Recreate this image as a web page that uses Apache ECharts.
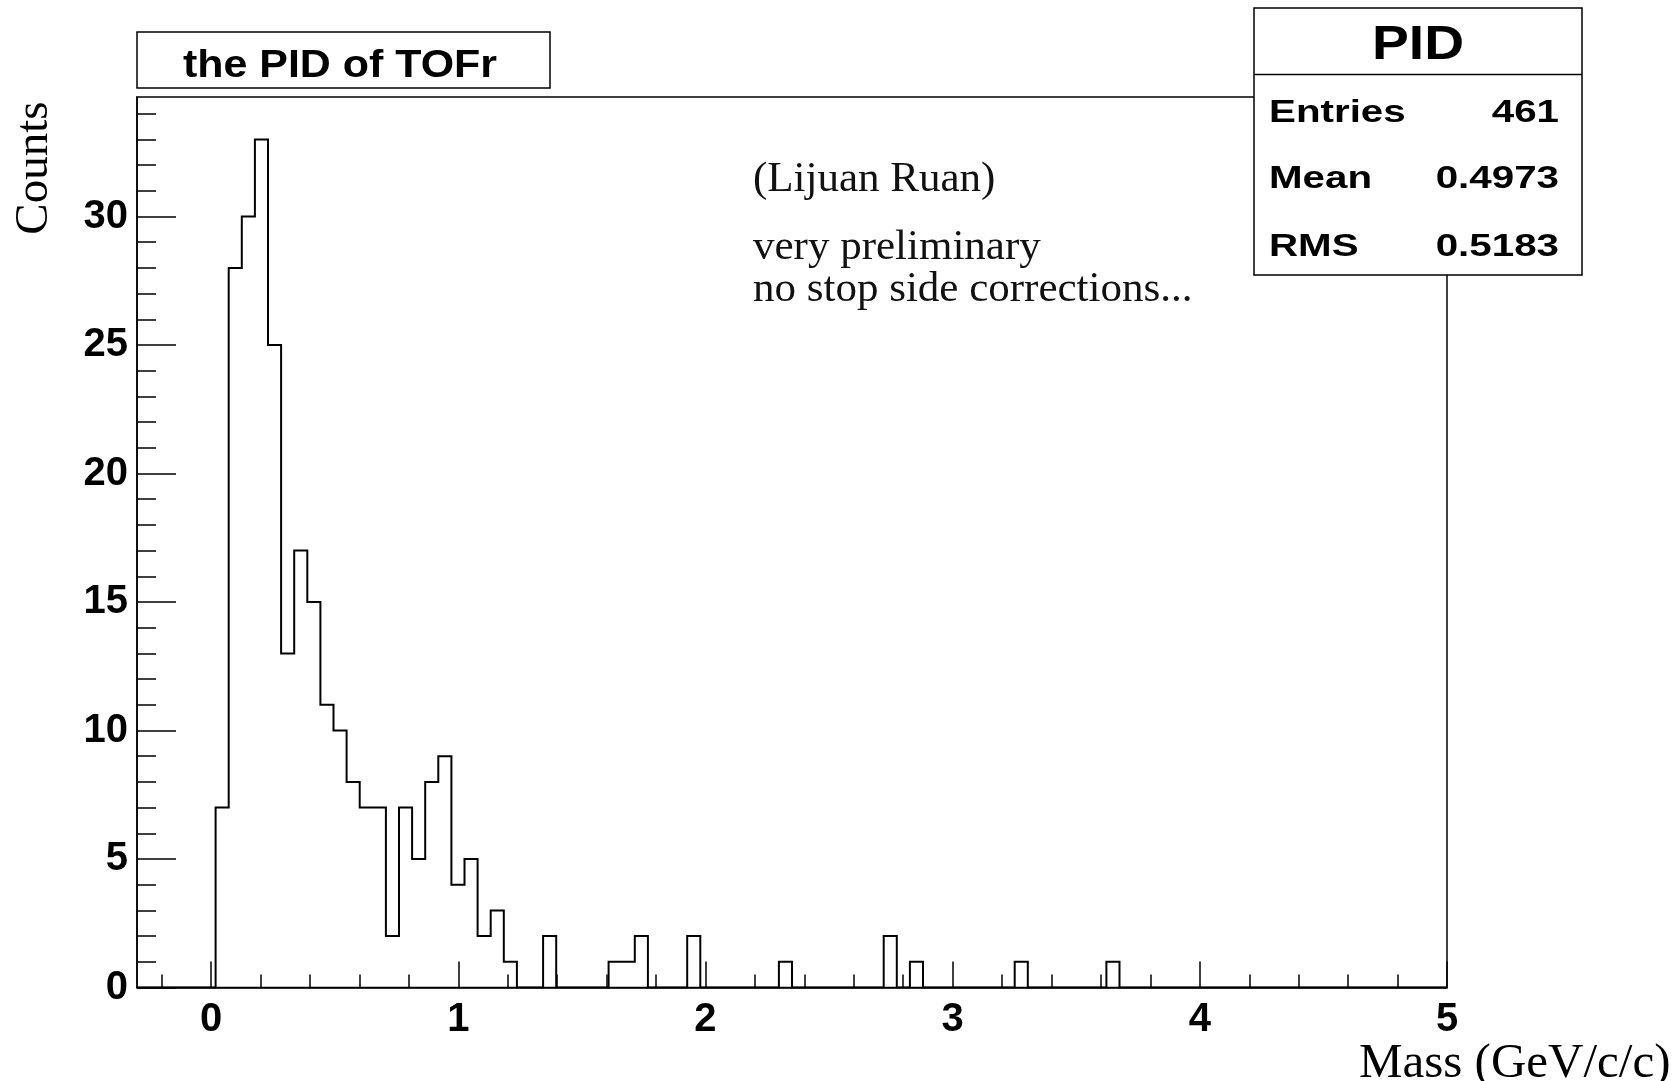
<!DOCTYPE html>
<html>
<head>
<meta charset="utf-8">
<title>the PID of TOFr</title>
<script src="https://cdn.jsdelivr.net/npm/echarts@6/dist/echarts.min.js"></script>
<style>
  html, body { margin: 0; padding: 0; background: #ffffff; }
  #chart { width: 1672px; height: 1081px; }
</style>
</head>
<body>
<div id="chart"></div>
<script>
// Binning of the mass histogram: 100 equal bins from -0.3 to 5 GeV/c/c
const massMin = -0.3;
const massMax = 5.0;
const binCount = 100;

// Entries per bin, first bin starting at massMin
const counts = [
  0, 0, 0, 0, 0, 0, 7, 28, 30, 33,
  25, 13, 17, 15, 11, 10, 8, 7, 7, 2,
  7, 5, 8, 9, 4, 5, 2, 3, 1, 0,
  0, 2, 0, 0, 0, 0, 1, 1, 2, 0,
  0, 0, 2, 0, 0, 0, 0, 0, 0, 1,
  0, 0, 0, 0, 0, 0, 0, 2, 0, 1,
  0, 0, 0, 0, 0, 0, 0, 1, 0, 0,
  0, 0, 0, 0, 1, 0, 0, 0, 0, 0,
  0, 0, 0, 0, 0, 0, 0, 0, 0, 0,
  0, 0, 0, 0, 0, 0, 0, 0, 0, 0
];

// Vertical range: peak bin plus 5% headroom
const countsMax = 34.65;

// Tick positions
const xMajorTicks = [0, 1, 2, 3, 4, 5];
const xMinorTicks = [-0.2, 0.2, 0.4, 0.6, 0.8, 1.2, 1.4, 1.6, 1.8, 2.2, 2.4, 2.6, 2.8,
                     3.2, 3.4, 3.6, 3.8, 4.2, 4.4, 4.6, 4.8];
const yMajorTicks = [0, 5, 10, 15, 20, 25, 30];
const yMinorTicks = [1, 2, 3, 4, 6, 7, 8, 9, 11, 12, 13, 14, 16, 17, 18, 19,
                     21, 22, 23, 24, 26, 27, 28, 29, 31, 32, 33, 34];

// Texts
const histTitle = 'the PID of TOFr';
const xTitle = 'Mass (GeV/c/c)';
const yTitle = 'Counts';
const statsName = 'PID';
const statsLabels = ['Entries', 'Mean', 'RMS'];
const statsValues = ['461', '0.4973', '0.5183'];
const noteLines = ['(Lijuan Ruan)', 'very preliminary', 'no stop side corrections...'];

// Outline points of the histogram: left edge of every bin, closed at massMax
const binWidth = (massMax - massMin) / binCount;
const outline = counts.map((c, k) => [massMin + k * binWidth, c]);
outline.push([massMax, counts[counts.length - 1]]);

const SANS = '"Liberation Sans", Arial, Helvetica, sans-serif';
const SERIF = '"Liberation Serif", "Times New Roman", serif';
const INK = '#000000';

const chart = echarts.init(document.getElementById('chart'), null, { renderer: 'canvas' });

// Value axis that only draws ticks (and optionally labels) at the given values
function tickAxis(common, ticks, len, labels) {
  return Object.assign({
    type: 'value',
    splitLine: { show: false },
    axisTick: { show: true, inside: true, length: len, customValues: ticks,
                lineStyle: { color: INK, width: 1.5 } },
    axisLabel: labels ? Object.assign({ customValues: ticks }, labels) : { show: false }
  }, common);
}

const frameLine = { show: true, onZero: false, lineStyle: { color: INK, width: 1.5 } };
const hiddenLine = { show: false, onZero: false };
const labelFont = { fontSize: 40, fontWeight: 'bold', fontFamily: SANS, color: INK };

const statsRowY = [113.6, 179.6, 247.6];
const noteY = [179.4, 247.7, 289.4];

const graphics = [
  // title box
  { type: 'rect', z: 100, shape: { x: 137, y: 32, width: 413, height: 56 },
    style: { fill: '#ffffff', stroke: INK, lineWidth: 1.5 } },
  { type: 'text', z: 101, x: 340, y: 66.5, scaleX: 1.13,
    style: { text: histTitle, fontSize: 38, fontWeight: 'bold', fontFamily: SANS,
             fill: INK, align: 'center', verticalAlign: 'middle' } },
  // statistics box
  { type: 'rect', z: 100, shape: { x: 1254, y: 8, width: 328, height: 267 },
    style: { fill: '#ffffff', stroke: INK, lineWidth: 1.5 } },
  { type: 'line', z: 101, shape: { x1: 1254, y1: 74.5, x2: 1582, y2: 74.5 },
    style: { stroke: INK, lineWidth: 1.5 } },
  { type: 'text', z: 101, x: 1418, y: 45.8, scaleX: 1.15,
    style: { text: statsName, fontSize: 48, fontWeight: 'bold', fontFamily: SANS,
             fill: INK, align: 'center', verticalAlign: 'middle' } },
  // axis titles
  { type: 'text', z: 101, x: 1670.5, y: 1064,
    style: { text: xTitle, fontSize: 49, fontFamily: SERIF, fill: INK,
             align: 'right', verticalAlign: 'middle' } },
  { type: 'text', z: 101, x: 34.5, y: 101.5, rotation: Math.PI / 2,
    style: { text: yTitle, fontSize: 47, fontFamily: SERIF, fill: INK,
             align: 'right', verticalAlign: 'middle' } }
];

statsLabels.forEach((lab, i) => {
  graphics.push({ type: 'text', z: 101, x: 1269, y: statsRowY[i], scaleX: 1.26,
    style: { text: lab, fontSize: 32, fontWeight: 'bold', fontFamily: SANS,
             fill: INK, align: 'left', verticalAlign: 'middle' } });
  graphics.push({ type: 'text', z: 101, x: 1559, y: statsRowY[i], scaleX: 1.26,
    style: { text: statsValues[i], fontSize: 32, fontWeight: 'bold', fontFamily: SANS,
             fill: INK, align: 'right', verticalAlign: 'middle' } });
});

noteLines.forEach((line, i) => {
  graphics.push({ type: 'text', z: 101, x: 753, y: noteY[i],
    style: { text: line, fontSize: 43, fontFamily: SERIF, fill: '#111111',
             align: 'left', verticalAlign: 'middle' } });
});

chart.setOption({
  animation: false,
  backgroundColor: '#ffffff',
  grid: {
    show: true, left: 137, top: 97, width: 1310, height: 890.5,
    borderColor: INK, borderWidth: 1.5, containLabel: false, outerBoundsMode: 'none'
  },
  xAxis: [
    tickAxis({ min: massMin, max: massMax, position: 'bottom', axisLine: frameLine },
             xMajorTicks, 26, Object.assign({ margin: 12 }, labelFont)),
    tickAxis({ min: massMin, max: massMax, position: 'bottom', axisLine: hiddenLine },
             xMinorTicks, 13, null)
  ],
  yAxis: [
    tickAxis({ min: 0, max: countsMax, position: 'left', axisLine: frameLine },
             yMajorTicks, 39, Object.assign({ margin: 9, padding: [6, 0, 0, 0] }, labelFont)),
    tickAxis({ min: 0, max: countsMax, position: 'left', axisLine: hiddenLine },
             yMinorTicks, 19, null)
  ],
  series: [{
    name: statsName,
    type: 'line',
    xAxisIndex: 0,
    yAxisIndex: 0,
    step: 'end',
    symbol: 'none',
    showSymbol: false,
    silent: true,
    clip: true,
    lineStyle: { color: INK, width: 2, join: 'miter' },
    data: outline
  }],
  graphic: { elements: graphics }
});
</script>
</body>
</html>
